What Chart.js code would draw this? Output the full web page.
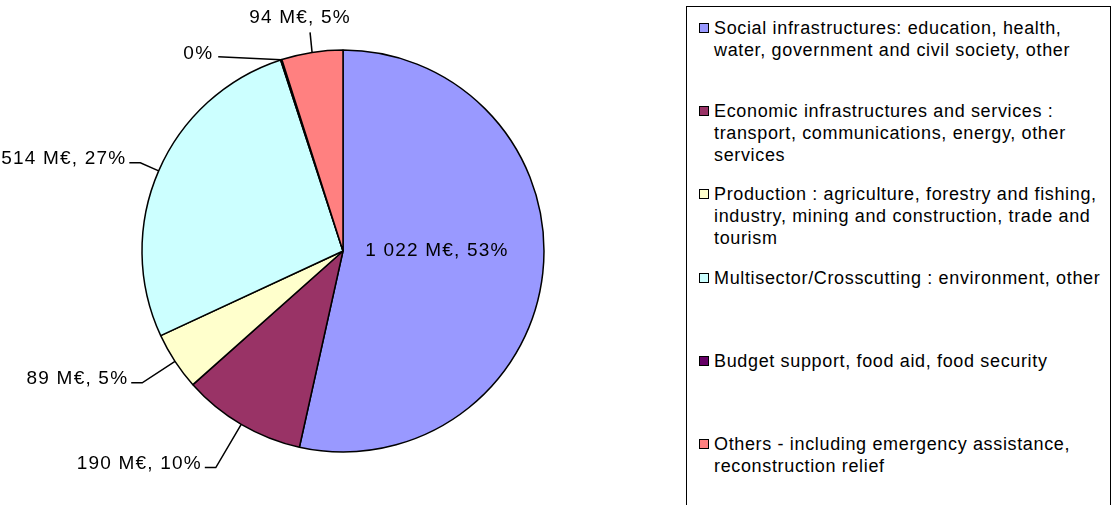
<!DOCTYPE html>
<html>
<head>
<meta charset="utf-8">
<script src="https://cdn.jsdelivr.net/npm/chart.js@4/dist/chart.umd.min.js"></script>
<style>
    html, body { margin: 0; padding: 0; background: #fff; }
    body { width: 1113px; height: 505px; position: relative; overflow: hidden; font-family: "Liberation Sans", Arial, sans-serif; }
    #chart-wrap { position: absolute; left: 0; top: 0; width: 680px; height: 505px; }
    #legend { position: absolute; left: 686px; top: 6px; width: 425px; height: 520px; border: 1.5px solid #000; box-sizing: border-box; padding-top: 10px; }
    .item { position: relative; height: 83.2px; padding-left: 27px; font-size: 18px; letter-spacing: 0.65px; line-height: 22px; color: #000; white-space: nowrap; }
    .item .box { position: absolute; left: 12px; top: 6px; width: 8px; height: 8px; border: 1.2px solid #000; }
</style>
</head>
<body>
<div id="chart-wrap"><canvas id="pie"></canvas></div>
<div id="legend"></div>
<script>
// categories (legend lines as in the original), values in M€
var categories = [
    ['Social infrastructures: education, health,', 'water, government and civil society, other'],
    ['Economic infrastructures and services :', 'transport, communications, energy, other', 'services'],
    ['Production : agriculture, forestry and fishing,', 'industry, mining and construction, trade and', 'tourism'],
    ['Multisector/Crosscutting : environment, other'],
    ['Budget support, food aid, food security'],
    ['Others - including emergency assistance,', 'reconstruction relief']
];
var values = [1022, 190, 89, 514, 2, 94];
var colors = ['#9999FF', '#993366', '#FFFFCC', '#CCFFFF', '#660066', '#FF8080'];

function fmt(v) {
    return String(v).replace(/\B(?=(\d{3})+(?!\d))/g, ' ');
}

// legend
var legend = document.getElementById('legend');
categories.forEach(function(lines, i) {
    var div = document.createElement('div');
    div.className = 'item';
    div.innerHTML = '<span class="box" style="background:' + colors[i] + '"></span>' + lines.join('<br>');
    legend.appendChild(div);
});

// data labels with leader lines, placed from each arc's own geometry
var leaderLabels = {
    id: 'leaderLabels',
    afterDatasetsDraw: function(chart) {
        var ctx = chart.ctx;
        var meta = chart.getDatasetMeta(0);
        var total = values.reduce(function(a, b) { return a + b; }, 0);
        ctx.save();
        ctx.font = '19px "Liberation Sans", Arial, sans-serif';
        ctx.letterSpacing = '1.2px';
        ctx.fillStyle = '#000';
        ctx.strokeStyle = '#000';
        ctx.lineWidth = 1.5;
        meta.data.forEach(function(arc, i) {
            var p = arc.getProps(['x', 'y', 'startAngle', 'endAngle', 'outerRadius'], true);
            var r = p.outerRadius;
            var mid = (p.startAngle + p.endAngle) / 2;
            var dx = Math.cos(mid), dy = Math.sin(mid);
            var share = values[i] / total;
            var pct = Math.round(share * 100);
            var text = pct === 0 ? pct + '%' : fmt(values[i]) + ' M€, ' + pct + '%';
            var ax = p.x + dx * r, ay = p.y + dy * r;

            if (share > 0.5) {
                ctx.textAlign = 'center';
                ctx.textBaseline = 'middle';
                ctx.fillText(text, p.x + dx * r * 0.47, p.y + dy * r * 0.47 - 11);
                return;
            }
            ctx.beginPath();
            ctx.moveTo(ax, ay);
            if (share < 0.01) {
                ctx.lineTo(ax - 63, ay - 3);
                ctx.stroke();
                ctx.textAlign = 'right';
                ctx.textBaseline = 'middle';
                ctx.fillText(text, ax - 68, ay - 6);
            } else if (dy < -0.9) {
                ctx.lineTo(ax - 2, ay - 20);
                ctx.stroke();
                ctx.textAlign = 'center';
                ctx.textBaseline = 'middle';
                ctx.fillText(text, ax - 12, ay - 35);
            } else {
                var d = 20 + 35 * Math.max(0, dy);
                var ex = ax + dx * d, ey = ay + dy * d;
                var side = dx < 0 ? -1 : 1;
                ctx.lineTo(ex, ey);
                ctx.lineTo(ex + side * 11, ey);
                ctx.stroke();
                ctx.textAlign = side < 0 ? 'right' : 'left';
                ctx.textBaseline = 'middle';
                ctx.fillText(text, ex + side * 14, ey - 4);
            }
        });
        ctx.restore();
    }
};

new Chart(document.getElementById('pie'), {
    type: 'pie',
    data: {
        labels: categories.map(function(c) { return c.join(' '); }),
        datasets: [{
            data: values,
            backgroundColor: colors,
            borderColor: '#000',
            borderWidth: 1.5,
            radius: 201
        }]
    },
    options: {
        responsive: true,
        maintainAspectRatio: false,
        animation: false,
        events: [],
        layout: { padding: { left: 6, right: 0, top: 0, bottom: 3 } },
        plugins: {
            legend: { display: false },
            tooltip: { enabled: false }
        }
    },
    plugins: [leaderLabels]
});
</script>
</body>
</html>
